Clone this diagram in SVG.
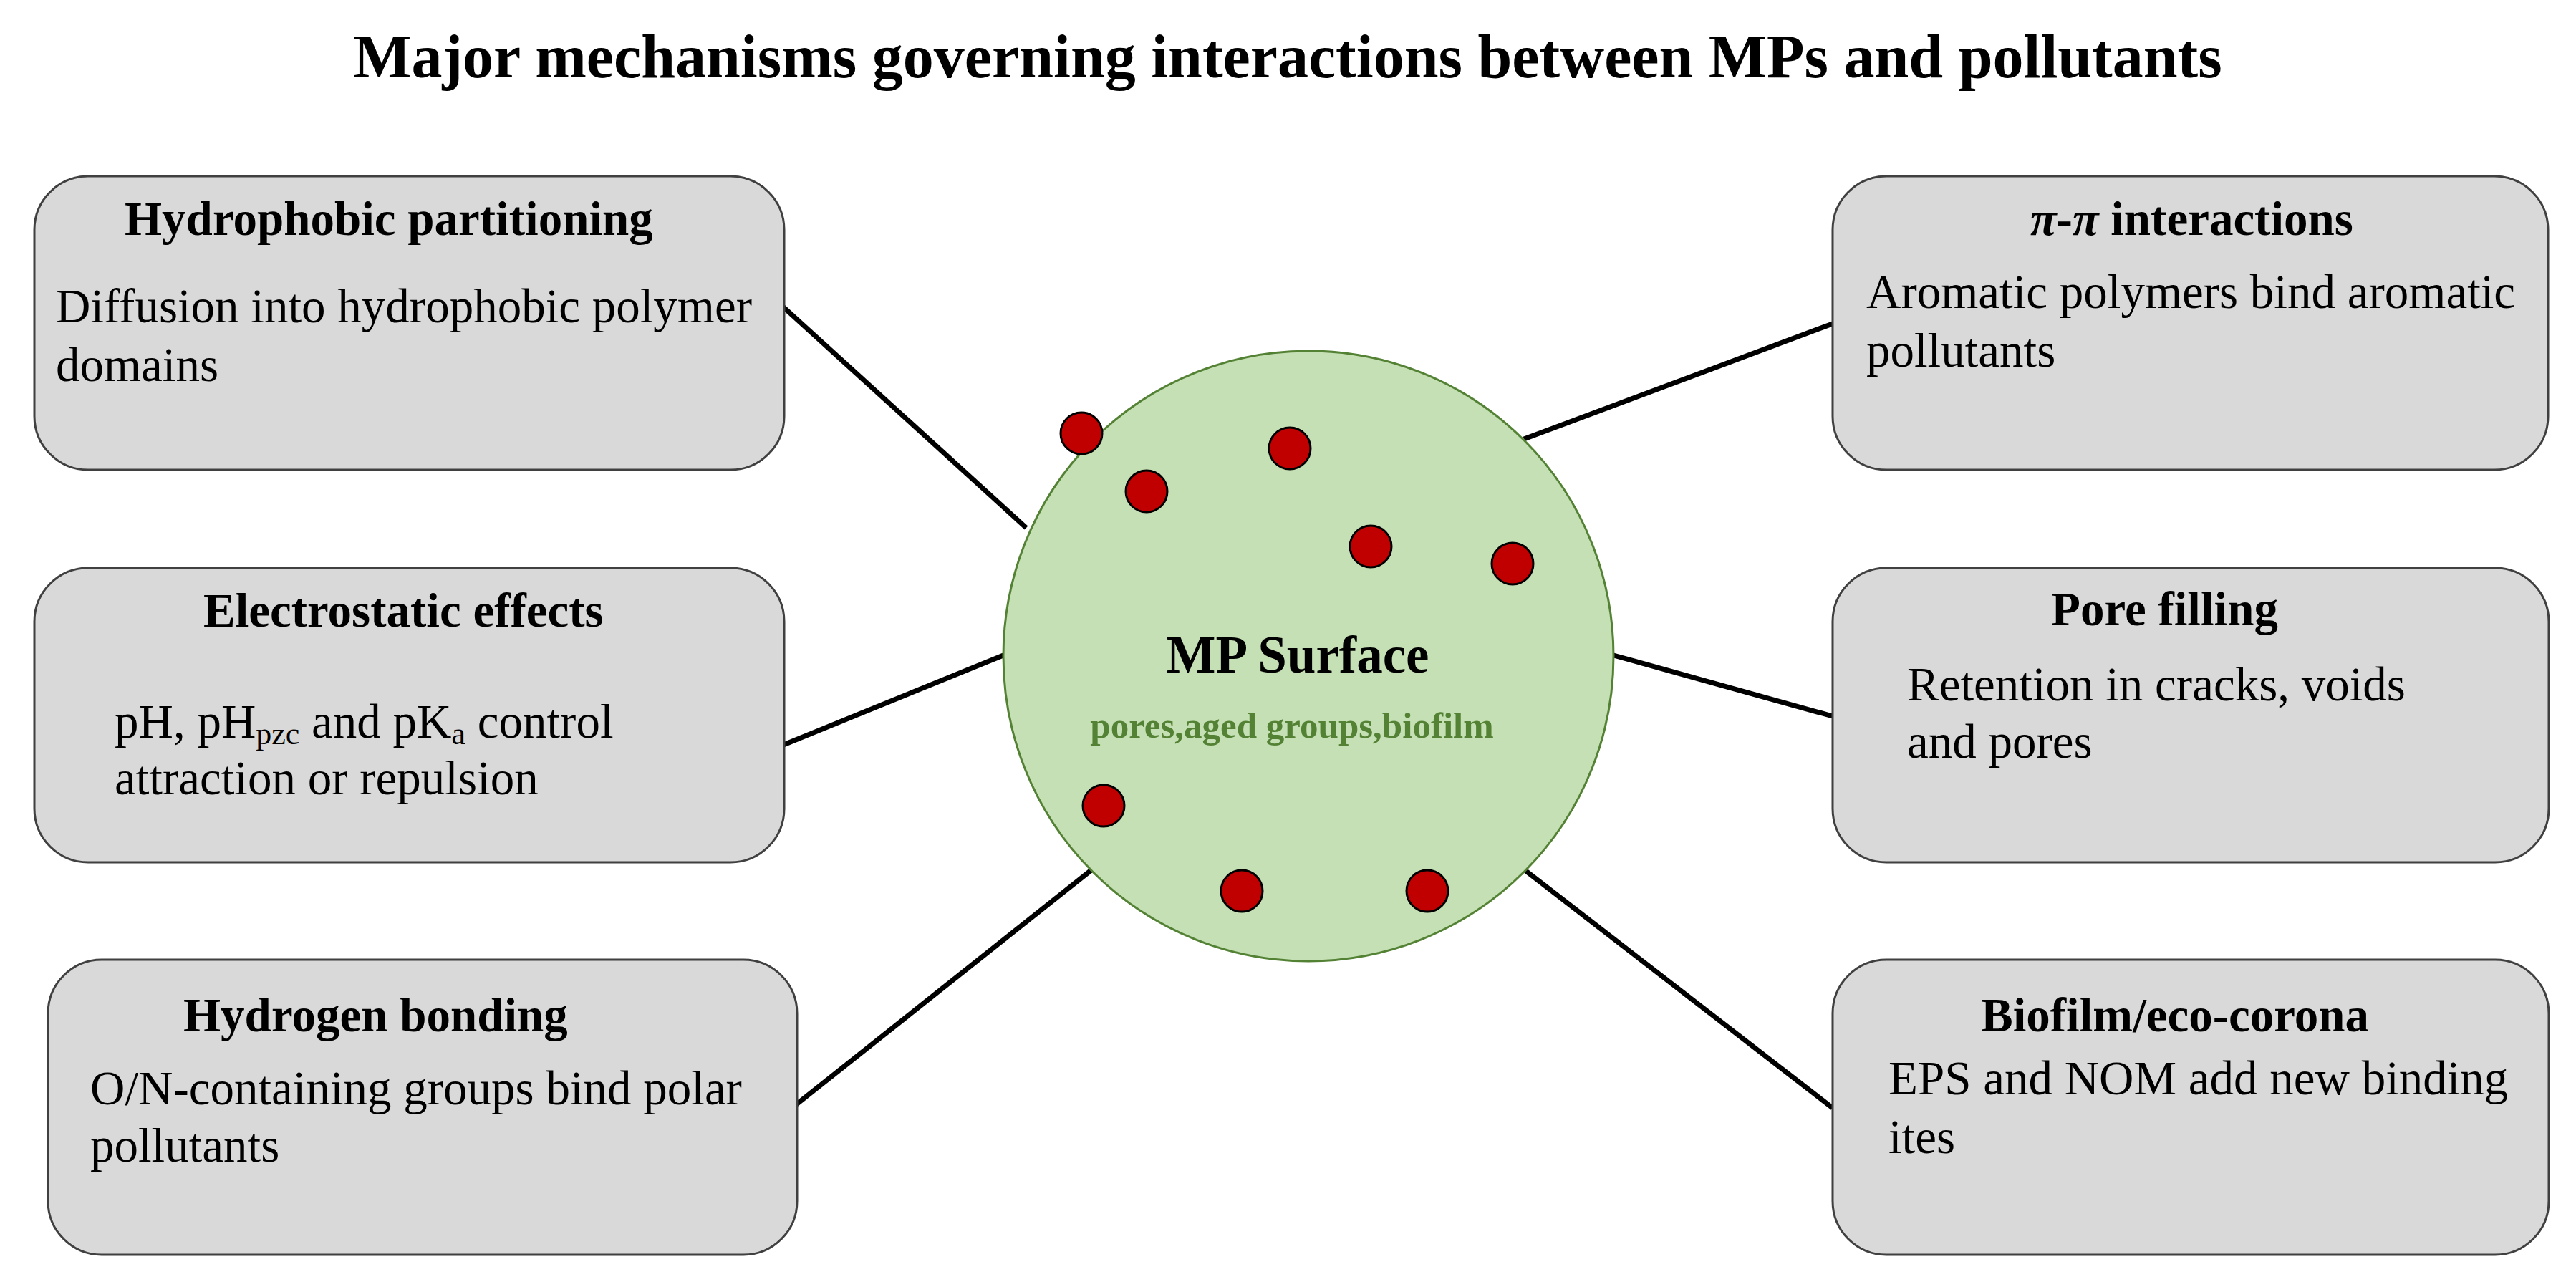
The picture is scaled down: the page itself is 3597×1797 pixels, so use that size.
<svg xmlns="http://www.w3.org/2000/svg" width="3597" height="1797" viewBox="0 0 3597 1797">
<style>
.box{fill:#d9d9d9;stroke:#404040;stroke-width:3}
.t{font-family:"Liberation Serif","Times New Roman",serif;font-size:67px;fill:#000}
.b{font-weight:bold}
.conn{stroke:#000;stroke-width:7;stroke-linecap:butt}
.dot{fill:#c00000;stroke:#000;stroke-width:3}
.sub{font-size:44px}
</style>
<rect width="3597" height="1797" fill="#fff"/>
<text x="1798" y="108" text-anchor="middle" class="t b" style="font-size:86px">Major mechanisms governing interactions between MPs and pollutants</text>

<g id="connectors">
<line class="conn" x1="1092" y1="427" x2="1433" y2="737"/>
<line class="conn" x1="1094" y1="1040" x2="1401" y2="915"/>
<line class="conn" x1="1112" y1="1542" x2="1525" y2="1214"/>
<line class="conn" x1="2559" y1="452" x2="2128" y2="613"/>
<line class="conn" x1="2559" y1="1000" x2="2253" y2="915"/>
<line class="conn" x1="2559" y1="1547" x2="2128" y2="1214"/>
</g>

<g id="mp-surface">
<circle cx="1827" cy="916" r="426" fill="#c5e0b4" stroke="#548235" stroke-width="3"/>
<circle class="dot" cx="1510" cy="605" r="29"/>
<circle class="dot" cx="1801" cy="626" r="29"/>
<circle class="dot" cx="1601" cy="686" r="29"/>
<circle class="dot" cx="1914" cy="763" r="29"/>
<circle class="dot" cx="2112" cy="787" r="29"/>
<circle class="dot" cx="1541" cy="1125" r="29"/>
<circle class="dot" cx="1734" cy="1244" r="29"/>
<circle class="dot" cx="1993" cy="1244" r="29"/>
<text x="1812" y="939" text-anchor="middle" class="t b" style="font-size:73px">MP Surface</text>
<text x="1804" y="1030" text-anchor="middle" class="t b" style="font-size:51px;fill:#548235">pores,aged groups,biofilm</text>
</g>

<g id="hydrophobic">
<rect class="box" x="48" y="246" width="1047" height="410" rx="75" ry="75"/>
<text x="174" y="328" class="t b">Hydrophobic partitioning</text>
<text x="78" y="450" class="t">Diffusion into hydrophobic polymer</text>
<text x="78" y="532" class="t">domains</text>
</g>

<g id="electrostatic">
<rect class="box" x="48" y="793" width="1047" height="411" rx="75" ry="75"/>
<text x="284" y="875" class="t b">Electrostatic effects</text>
<text x="160" y="1030" class="t">pH, pH<tspan class="sub" dy="9">pzc</tspan><tspan dy="-9"> and pK</tspan><tspan class="sub" dy="9">a</tspan><tspan dy="-9"> control</tspan></text>
<text x="160" y="1109" class="t">attraction or repulsion</text>
</g>

<g id="hydrogen">
<rect class="box" x="67" y="1340" width="1046" height="412" rx="75" ry="75"/>
<text x="256" y="1440" class="t b">Hydrogen bonding</text>
<text x="126" y="1542" class="t">O/N-containing groups bind polar</text>
<text x="126" y="1622" class="t">pollutants</text>
</g>

<g id="pi-pi">
<rect class="box" x="2559" y="246" width="999" height="410" rx="75" ry="75"/>
<text x="2835" y="328" class="t b"><tspan font-style="italic">π</tspan>-<tspan font-style="italic">π</tspan> interactions</text>
<text x="2606" y="430" class="t">Aromatic polymers bind aromatic</text>
<text x="2606" y="512" class="t">pollutants</text>
</g>

<g id="pore-filling">
<rect class="box" x="2559" y="793" width="1000" height="411" rx="75" ry="75"/>
<text x="2864" y="873" class="t b">Pore filling</text>
<text x="2663" y="978" class="t">Retention in cracks, voids</text>
<text x="2663" y="1058" class="t">and pores</text>
</g>

<g id="biofilm">
<rect class="box" x="2559" y="1340" width="1000" height="412" rx="75" ry="75"/>
<text x="2766" y="1440" class="t b">Biofilm/eco-corona</text>
<text x="2637" y="1528" class="t">EPS and NOM add new binding</text>
<text x="2637" y="1610" class="t">ites</text>
</g>
</svg>
